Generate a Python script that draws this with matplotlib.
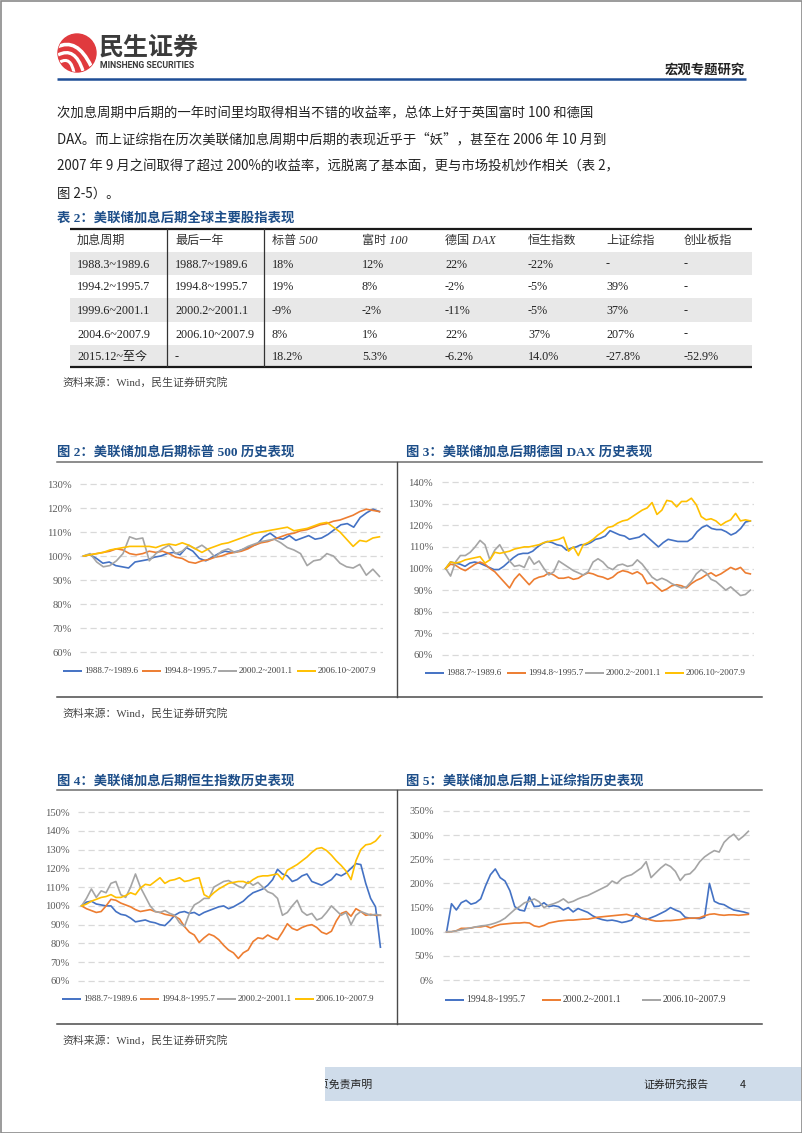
import matplotlib
matplotlib.use("Agg")
import matplotlib.pyplot as plt
import numpy as np
from matplotlib.patches import Rectangle, Circle, PathPatch
from matplotlib.path import Path
from matplotlib.ticker import FuncFormatter

CJK = "Noto Sans CJK SC"
SERIF = ["Liberation Serif", CJK]
plt.rcParams["font.family"] = SERIF

# ---------------- text content ----------------
body_lines = [
    "次加息周期中后期的一年时间里均取得相当不错的收益率，总体上好于英国富时 100 和德国",
    "DAX。而上证综指在历次美联储加息周期中后期的表现近乎于“妖”，甚至在 2006 年 10 月到",
    "2007 年 9 月之间取得了超过 200%的收益率，远脱离了基本面，更与市场投机炒作相关（表 2，",
    "图 2-5）。",
]

# ---------------- table 2 ----------------
tbl_header = ["加息周期", "最后一年", "标普 500", "富时 100", "德国 DAX", "恒生指数", "上证综指", "创业板指"]
tbl_cycle = ["1988.3~1989.6", "1994.2~1995.7", "1999.6~2001.1", "2004.6~2007.9", "2015.12~至今"]
tbl_last_year = ["1988.7~1989.6", "1994.8~1995.7", "2000.2~2001.1", "2006.10~2007.9", "-"]
tbl_sp500 = ["18%", "19%", "-9%", "8%", "18.2%"]
tbl_ftse = ["12%", "8%", "-2%", "1%", "5.3%"]
tbl_dax = ["22%", "-2%", "-11%", "22%", "-6.2%"]
tbl_hsi = ["-22%", "-5%", "-5%", "37%", "14.0%"]
tbl_sse = ["-", "39%", "37%", "207%", "-27.8%"]
tbl_gem = ["-", "-", "-", "-", "-52.9%"]

# ---------------- chart series (index level, % of start) ----------------
labels4 = ["1988.7~1989.6", "1994.8~1995.7", "2000.2~2001.1", "2006.10~2007.9"]
labels3 = ["1994.8~1995.7", "2000.2~2001.1", "2006.10~2007.9"]

sp_1988 = [100, 100.5, 99, 97, 97.5, 96, 95.5, 95, 97.5, 98, 98.5, 99.5, 100, 101, 101.5, 100.5,
           103.5, 102, 99, 98, 99.5, 101, 102, 101.5, 102, 103, 104, 105, 108, 109.5, 107.5, 107,
           108.5, 106.5, 107.5, 108.5, 107, 107.5, 109, 111, 113, 113.5, 112, 116, 118, 119.5, 118.5]
sp_1994 = [100, 100.5, 101, 101.5, 102, 103, 102.5, 101, 100.5, 101, 102, 101.5, 102, 101, 99.5, 99,
           97.5, 97, 98, 98.5, 99.5, 100, 101, 101.5, 102, 103, 104.5, 105.5, 106, 107, 108, 109,
           109.5, 110.5, 111, 112, 113, 113.5, 114.5, 115, 116, 117, 118.5, 119.5, 119, 118.5]
sp_2000 = [100, 101, 97.5, 95.5, 96, 98, 101, 108, 107, 107.5, 98, 101, 103, 104.5, 101, 102,
           104.5, 103, 104.5, 102.5, 99.5, 102, 103, 101.5, 102.5, 104, 105, 106, 106.5, 107, 105.5,
           103.5, 102.5, 101, 96, 98, 98.5, 101, 100, 97, 95.5, 95, 96.5, 92, 94.5, 91.5]
sp_2006 = [100, 100.5, 101, 101.5, 102.5, 103, 103.5, 104, 104, 104, 104, 103.5, 104.5, 105, 104.5,
           105.5, 104.5, 103, 101.5, 103, 104, 105, 105.5, 106.5, 107.5, 108.5, 109.5, 110, 110.5, 111,
           111.5, 112, 110.5, 111, 111.5, 112.5, 113.5, 114, 112, 110, 107, 104, 106.5, 106, 107.5, 108]

dax_1988 = [100, 103, 102.5, 102, 101, 102.5, 103, 102.5, 101.5, 100.5, 99.5, 99.5, 101, 103, 105,
            106.5, 107, 107, 108, 110, 111.5, 112.5, 112, 111, 110.5, 108.5, 109.5, 110, 111, 111,
            112, 113.5, 114, 115, 117.5, 116.5, 115.5, 115, 113.5, 114, 114.5, 116, 114, 112, 110,
            112, 113.5, 113, 112.5, 112.5, 112.5, 114, 117, 119, 120, 118.5, 118, 118, 117, 115.5,
            116.5, 118.5, 121.5, 122]
dax_1994 = [100, 102, 101.5, 100, 99, 100.5, 102, 103, 102, 100, 98.5, 96, 93.5, 91, 95, 97.5, 95,
            92.5, 95, 96, 96.5, 98, 97, 95.5, 95.5, 96, 95, 95.5, 97, 98, 97.5, 96.5, 96, 95, 96, 98,
            99, 98.5, 97.5, 98.5, 97, 93, 93.5, 91.5, 89.5, 90.5, 92, 92.5, 92, 91, 93, 94.5, 95.5,
            97, 98, 96.5, 97.5, 99, 100.5, 99.5, 100.5, 98, 97.5]
dax_2000 = [100, 96.5, 103, 106, 106, 107.5, 110, 113, 111, 104, 108.5, 111, 107, 103.5, 101, 101.5,
            100.5, 105.5, 102, 103.5, 100, 97, 98.5, 103.5, 102, 100.5, 99, 98, 97, 98.5, 103, 104.5,
            103, 100.5, 99.5, 101.5, 102, 101, 101.5, 104, 102, 99, 96, 94.5, 95.5, 94.5, 93, 92, 91,
            91.5, 94, 97.5, 99.5, 98, 95, 94, 92, 90, 91.5, 89.5, 87.5, 88, 90]
dax_2006 = [100, 103, 102.5, 103, 104, 104.5, 105, 105.5, 102.5, 104, 107.5, 107, 107.5, 108, 109,
            109.5, 110, 110, 110.5, 111, 112, 112.5, 113, 113.5, 114.5, 108, 110, 106, 111, 112,
            113.5, 115.5, 117, 119, 119.5, 121, 122, 122.5, 124, 125.5, 127, 128, 130.5, 125, 127,
            131.5, 131, 128.5, 131, 131, 132.5, 129.5, 124, 122.5, 123, 122, 120, 121.5, 122.5,
            125.5, 122, 122.5, 122]

hsi_1988 = [100, 102, 102.5, 101, 100.5, 100, 100, 97, 95.5, 95, 93.5, 91.5, 92, 92.5, 91.5, 91, 90,
            89.5, 92, 95, 96.5, 97, 96, 96.5, 95, 96.5, 97.5, 98.5, 99.5, 100, 98.5, 99.5, 101, 102.5,
            105, 107, 108, 109, 111, 114, 119.5, 117, 116, 113, 114, 116, 117, 113, 112, 111, 112.5,
            114, 117, 116, 117.5, 120, 122.5, 122, 112, 104, 99.5, 78]
hsi_1994 = [100, 98.5, 97.5, 96.5, 97, 100, 103.5, 103, 101.5, 100.5, 99.5, 98, 97, 97.5, 98, 97,
            96.5, 95.5, 95, 94.5, 93, 89, 86, 84.5, 80.5, 83, 85, 84, 82, 79, 76.5, 75, 72, 75, 76.5,
            81, 83, 82.5, 84.5, 83, 82, 86, 90.5, 88, 87, 88.5, 89.5, 90, 88.5, 86, 85, 86.5, 92, 96,
            97, 94.5, 98.5, 97, 95, 95.5, 95, 95]
hsi_2000 = [100, 104, 109, 104.5, 108, 107, 112, 113, 106, 104.5, 110, 117, 110, 105, 100, 97, 96.5,
            97.5, 96, 95, 91, 89, 96, 100.5, 102, 104, 104, 110, 111.5, 113, 113.5, 112, 110.5, 109.5,
            113, 111, 112.5, 110, 107.5, 106.5, 104, 95, 96.5, 100, 103, 97, 95, 96, 92.5, 93.5,
            96.5, 100, 97.5, 95, 96.5, 90, 95, 97, 96, 95, 95.5, 95]
hsi_2006 = [100, 101, 102.5, 103.5, 104.5, 105, 106, 104.5, 104.5, 105.5, 107, 106, 109.5, 111.5,
            111, 113, 115, 112, 113.5, 114, 115, 113, 113.5, 114.5, 115, 106, 104.5, 107, 109, 110.5,
            112, 112.5, 113, 113, 112, 114, 115.5, 116, 116, 116.5, 117, 114, 119, 120.5, 122, 124,
            126, 128.5, 130.5, 131, 129.5, 127, 124, 121.5, 118.5, 114, 124, 130, 132.5, 133, 134.5,
            137.5]

sse_1994 = [100, 158, 145, 160, 165, 157, 160, 168, 195, 218, 230, 212, 205, 185, 152, 145, 143, 172,
            152, 153, 160, 152, 154, 152, 145, 150, 141, 148, 144, 140, 133, 128, 125, 123, 124, 122,
            119, 121, 124, 138, 128, 125, 129, 133, 138, 143, 150, 145, 141, 130, 128, 128, 127, 130,
            200, 163, 158, 156, 150, 145, 143, 141, 138]
sse_2000 = [100, 100, 102, 107, 107, 107.5, 110, 110, 112, 108, 112, 115, 116, 117, 118, 118, 119,
            118, 112, 110, 113, 118, 120, 122, 123, 124, 124, 125, 126, 126, 128, 130, 131, 132, 133,
            134, 135, 136, 133, 132, 128, 127, 124, 122, 122, 123, 123, 124, 125, 127, 128, 128, 129,
            133, 136, 137, 135, 134, 135, 135, 134, 135, 136]
sse_2006 = [100, 100, 102, 104, 106, 108, 110, 112, 113, 115, 118, 122, 128, 137, 146, 152, 160, 163,
            168, 162, 150, 155, 158, 162, 168, 160, 163, 168, 172, 175, 180, 185, 190, 195, 205, 200,
            210, 215, 218, 225, 232, 245, 212, 222, 232, 240, 235, 225, 206, 218, 220, 230, 245, 255,
            262, 268, 265, 285, 295, 302, 290, 298, 308]

C_BLUE, C_ORANGE, C_GRAY, C_YELLOW = "#4472C4", "#ED7D31", "#A5A5A5", "#FFC000"
TITLE_BLUE = "#1d4e89"

W, H = 802, 1133
fig = plt.figure(figsize=(W / 100, H / 100), dpi=100)
page = fig.add_axes([0, 0, 1, 1])
page.set_xlim(0, W)
page.set_ylim(H, 0)
page.axis("off")


def box(x0, y0, x1, y1):
    return [x0 / W, 1 - y1 / H, (x1 - x0) / W, (y1 - y0) / H]


def ptext(x, y, s, size, color="#222222", family=SERIF, **kw):
    kw.setdefault("va", "center")
    return page.text(x, y, s, fontsize=size, color=color, family=family, **kw)


# ---------------- page frame / header ----------------
page.add_patch(Rectangle((0.5, 0.5), W - 1, H - 1, fill=False, ec="#8a8a8a", lw=1.2))

logo = Circle((77, 53), 19, color="#e03a3e")
page.add_patch(logo)
for (a, b, c, lw) in [((57, 47), (77, 37), (91, 66), 2.6), ((58, 55), (75, 46), (83, 71), 2.4),
                      ((60, 62), (71, 56), (74, 73), 2.2)]:
    pp = PathPatch(Path([a, b, c], [Path.MOVETO, Path.CURVE3, Path.CURVE3]), fill=False, ec="white", lw=lw)
    page.add_patch(pp)
    pp.set_clip_path(logo)
ptext(99, 48, "民生证券", 18, color="#3b3b3b", family=[CJK], weight="bold")
ptext(100, 66, "MINSHENG SECURITIES", 6.3, color="#3b3b3b", family=["Roboto", CJK], weight="bold")
ptext(745, 70, "宏观专题研究", 9.6, color="#222222", family=[CJK], weight="bold", ha="right")
page.plot([57, 746], [79, 79], color="#1f4e96", lw=1.8, solid_capstyle="butt")

for i, line in enumerate(body_lines):
    ptext(57, 113 + 26.8 * i, line, 9.6, color="#222222", family=[CJK])

# ---------------- table ----------------
ptext(57, 218, "表 2：美联储加息后期全球主要股指表现", 9.6, color=TITLE_BLUE, weight="bold")
row_edges = [228, 252, 275, 298, 322, 345, 367]
col_x = [77, 175, 272, 362, 445, 528, 606, 684]
for r in (0, 2, 4):
    page.add_patch(Rectangle((70, row_edges[r + 1]), 682, row_edges[r + 2] - row_edges[r + 1],
                             color="#e8e8e8", lw=0))
page.plot([70, 752], [228.5, 228.5], color="#1a1a1a", lw=1.6, solid_capstyle="butt")
page.plot([70, 752], [367, 367], color="#1a1a1a", lw=1.6, solid_capstyle="butt")
for vx in (167, 264):
    page.plot([vx, vx], [229, 366], color="#333333", lw=0.9)
for cx, h in zip(col_x, tbl_header):
    ptext(cx, (row_edges[0] + row_edges[1]) / 2 + 1, h, 8.7, color="#333333", style="italic")
columns = [tbl_cycle, tbl_last_year, tbl_sp500, tbl_ftse, tbl_dax, tbl_hsi, tbl_sse, tbl_gem]
for cx, col in zip(col_x, columns):
    for r, val in enumerate(col):
        ptext(cx, (row_edges[r + 1] + row_edges[r + 2]) / 2 + 1, val, 8.7, color="#222222")

SOURCE = "资料来源：Wind，民生证券研究院"
ptext(62, 382, SOURCE, 7.8, color="#444444")


# ---------------- charts ----------------
def chart(x0, y0, x1, y1, series, colors, lo, hi, step, legend, leg_y, pad, leg_size):
    per_px = (hi - lo) / (y1 - y0)
    ax = fig.add_axes(box(x0, y0 - 3, x1, y1 + 3))
    ax.set_ylim(lo - 3 * per_px, hi + 3 * per_px)
    ax.set_xlim(-0.012, 1.012)
    for vals, c in zip(series, colors):
        ax.plot(np.linspace(0, 1, len(vals)), vals, color=c, lw=1.2, solid_joinstyle="round")
    ax.set_yticks(np.arange(lo, hi + 1, step))
    ax.yaxis.set_major_formatter(FuncFormatter(lambda v, _: f"{v:.0f}%"))
    ax.set_xticks([])
    ax.tick_params(axis="y", length=0, pad=pad, labelsize=7.6, labelcolor="#595959")
    ax.grid(axis="y", color="#d9d9d9", lw=0.9, ls=(0, (5, 3)))
    ax.set_axisbelow(True)
    for s in ax.spines.values():
        s.set_visible(False)
    ax.patch.set_alpha(0)
    for (lx, lab), c in zip(legend, colors):
        page.plot([lx, lx + 19], [leg_y, leg_y], color=c, lw=1.4, solid_capstyle="butt")
        ptext(lx + 21, leg_y, lab, leg_size, color="#404040")
    return ax


# section frames
for yt, yb in ((462, 697), (790, 1024)):
    page.plot([57, 762], [yt, yt], color="#6e6e6e", lw=1.1)
    page.plot([57, 762], [yb, yb], color="#4a4a4a", lw=1.1)
    page.plot([397, 397], [yt, yb], color="#4a4a4a", lw=1.0)

ptext(57, 452, "图 2：美联储加息后期标普 500 历史表现", 9.6, color=TITLE_BLUE, weight="bold")
ptext(406, 452, "图 3：美联储加息后期德国 DAX 历史表现", 9.6, color=TITLE_BLUE, weight="bold")
ptext(57, 781, "图 4：美联储加息后期恒生指数历史表现", 9.6, color=TITLE_BLUE, weight="bold")
ptext(406, 781, "图 5：美联储加息后期上证综指历史表现", 9.6, color=TITLE_BLUE, weight="bold")

colors4 = [C_BLUE, C_ORANGE, C_GRAY, C_YELLOW]
chart(80, 484, 383, 652, [sp_1988, sp_1994, sp_2000, sp_2006], colors4, 60, 130, 10,
      list(zip([63, 142, 218, 297], labels4)), 671, 6, 6.5)
chart(442, 482, 754, 655, [dax_1988, dax_1994, dax_2000, dax_2006], colors4, 60, 140, 10,
      list(zip([425, 507, 585, 665], labels4)), 673, 6.5, 6.6)
chart(78, 812, 384, 981, [hsi_1988, hsi_1994, hsi_2000, hsi_2006], colors4, 60, 150, 10,
      list(zip([62, 140, 217, 295], labels4)), 999, 6, 6.5)
chart(443, 811, 752, 980, [sse_1994, sse_2000, sse_2006], [C_BLUE, C_ORANGE, C_GRAY], 0, 350, 50,
      list(zip([445, 542, 642], labels3)), 1000, 6.5, 7.0)

ptext(62, 713, SOURCE, 7.8, color="#444444")
ptext(62, 1040, SOURCE, 7.8, color="#444444")

# ---------------- footer ----------------
page.add_patch(Rectangle((325, 1067), W - 326, 34, color="#cfdcea", lw=0, zorder=1))
ptext(373, 1085, "一页免责声明", 7.8, color="#222222", family=[CJK], ha="right", zorder=2)
page.add_patch(Rectangle((240, 1066), 85, 36, color="white", lw=0, zorder=3))
ptext(643, 1085, "证券研究报告", 7.8, color="#222222", family=[CJK], zorder=2)
ptext(740, 1085, "4", 7.8, color="#222222", family=[CJK], zorder=2)

fig.savefig("out.png", dpi=100)
